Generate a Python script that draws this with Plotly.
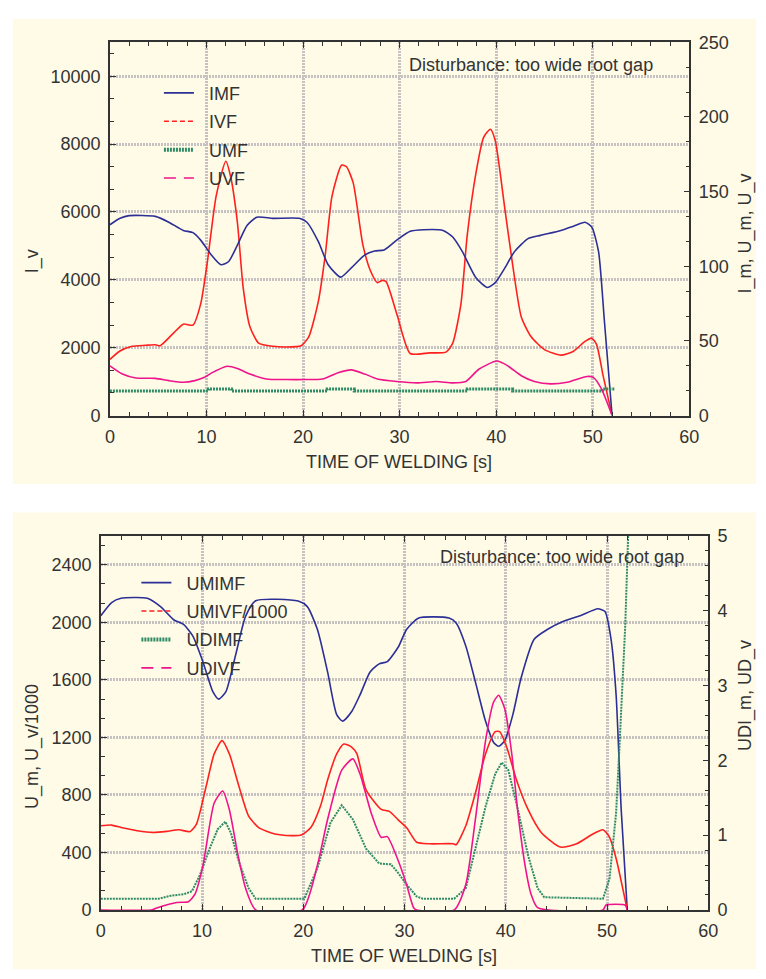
import plotly.graph_objects as go

# ---------------- Top panel data ----------------
T_IMF = [0, 1.05, 2.0, 4.7, 6.1, 7.6, 8.6, 9.4, 10.5, 11.5, 12.3, 13.2, 14.2, 15.2, 16.9, 19.6, 20.4, 21.6,
         22.6, 23.9, 25.0, 26.4, 27.4, 28.4, 29.7, 31.1, 32.5, 34.5, 35.5, 36.5, 37.9, 39.1, 39.9, 40.9,
         41.9, 43.3, 44.6, 46.7, 48.0, 49.2, 49.9, 50.6, 51.2, 52.0]
IMF = [127.8, 132.1, 133.9, 133.4, 129.5, 124.0, 122.5, 117.5, 107.6, 101.0, 103.2, 114.2, 127.3, 132.8, 132.1,
       132.1, 129.5, 116.3, 101.0, 92.7, 98.9, 107.6, 110.2, 110.9, 117.5, 123.4, 124.5, 124.0, 119.6, 109.8,
       92.3, 85.8, 89.0, 98.9, 109.8, 118.5, 120.7, 124.0, 126.8, 129.5, 126.2, 109.8, 63.8, 0]

T_IVF = [0, 1.0, 2.3, 3.7, 4.7, 5.2, 6.4, 7.6, 8.6, 9.4, 10.1, 11.0, 12.0, 12.5, 13.2, 13.8, 14.5, 15.4,
         16.9, 18.2, 19.8, 20.6, 21.6, 22.3, 23.0, 24.0, 24.5, 25.2, 26.2, 27.0, 27.7, 28.2, 28.6, 29.75,
         31.1, 33.1, 34.8, 35.5, 36.35, 37.0, 37.9, 38.7, 39.4, 39.9, 40.9, 41.75, 42.6, 43.6, 45.0, 46.7,
         48.0, 49.2, 49.9, 50.4, 51.07, 52.0]
IVF = [1654, 1896, 2041, 2070, 2088, 2059, 2376, 2694, 2665, 3291, 4542, 6467, 7497, 7044, 5697, 3773, 2618,
       2136, 2041, 2021, 2059, 2329, 3387, 4735, 6467, 7382, 7333, 6851, 5023, 4253, 3917, 3984, 3946, 2954,
       1828, 1848, 1868, 2136, 3291, 5312, 7140, 8199, 8439, 8104, 6083, 4350, 2907, 2329, 1943, 1780,
       1896, 2185, 2281, 2088, 1175, 0]

T_UMF = [0, 10.2, 12.6, 22.5, 25.3, 37.0, 41.7, 51.0, 52.3]
UMF = [16.4, 17.7, 16.4, 17.7, 16.4, 17.7, 16.4, 17.7, 17.7]

T_UVF = [0, 1.3, 2.7, 4.7, 6.1, 7.6, 8.8, 9.8, 10.5, 12.15, 13.2, 14.5, 16.2, 18.2, 20.3, 22.0, 23.7, 25.0,
         26.4, 27.7, 29.7, 31.8, 33.8, 35.5, 36.85, 38.2, 40.07, 41.2, 42.6, 43.96, 45.65, 47.35, 49.4,
         50.05, 50.9, 52.0]
UVF = [33.3, 27.8, 25.1, 24.9, 23.4, 22.3, 23.4, 25.6, 28.4, 33.0, 31.5, 27.8, 24.5, 24.1, 24.1, 24.5, 28.9,
       30.6, 27.8, 24.5, 22.8, 21.9, 22.8, 21.9, 22.8, 31.0, 36.5, 33.3, 26.7, 22.8, 21.2, 22.3, 26.2,
       25.6, 17.9, 0]

# ---------------- Bottom panel data ----------------
T_UMIMF = [0, 1.07, 2.0, 4.6, 5.9, 7.2, 8.2, 9.1, 10.1, 11.07, 11.65, 12.36, 13.3, 14.3, 15.3, 19.5, 20.4,
           21.4, 22.4, 23.3, 23.9, 24.8, 25.6, 26.6, 27.5, 28.3, 29.4, 30.2, 31.4, 34.4, 35.1, 36.05, 37.0,
           38.0, 38.8, 39.3, 39.9, 40.7, 41.5, 42.8, 44.1, 45.7, 47.35, 49.1, 49.8, 50.4, 50.9, 51.4, 52.0]
UMIMF = [2045, 2137, 2167, 2167, 2109, 2018, 1984, 1904, 1723, 1518, 1466, 1518, 1768, 2041, 2150, 2148,
         2109, 1950, 1655, 1358, 1313, 1382, 1495, 1655, 1711, 1727, 1830, 1950, 2030, 2030, 1996, 1836,
         1586, 1313, 1165, 1138, 1177, 1358, 1609, 1882, 1950, 2007, 2046, 2094, 2075, 1882, 1495, 699, 0]

T_UMIVF = [0, 1.07, 2.0, 3.6, 5.1, 6.5, 7.7, 8.8, 9.45, 10.4, 11.2, 11.97, 12.7, 13.65, 14.6, 15.6, 17.2,
           18.8, 19.8, 20.75, 21.7, 22.4, 23.3, 24.0, 24.8, 25.3, 26.2, 27.7, 28.5, 29.4, 30.2, 31.2, 32.5,
           34.8, 35.1, 36.05, 37.0, 38.0, 38.96, 39.4, 40.1, 41.06, 42.2, 43.5, 45.4, 47.0, 48.6, 49.6,
           50.25, 50.9, 52.0]
UMIVF = [585, 590, 573, 551, 539, 546, 558, 544, 597, 858, 1085, 1177, 1085, 858, 653, 573, 528, 517, 521,
         573, 722, 904, 1085, 1154, 1131, 1085, 835, 699, 685, 625, 573, 471, 460, 460, 453, 585, 812,
         1085, 1240, 1240, 1131, 904, 699, 539, 437, 460, 528, 558, 505, 358, 0]

T_UDIMF = [0, 5.7, 6.9, 8.2, 9.0, 9.8, 10.75, 11.55, 12.3, 12.85, 13.65, 14.6, 15.3, 20.1, 21.4, 22.7,
           23.8, 24.9, 26.2, 27.5, 28.65, 29.4, 30.2, 31.2, 31.8, 34.9, 36.05, 37.0, 38.0, 38.96, 39.6,
           40.25, 41.2, 42.2, 43.15, 43.8, 49.6, 50.25, 50.9, 51.2, 51.5, 51.8, 52.1, 52.2]
UDIMF = [0.15, 0.15, 0.19, 0.21, 0.25, 0.47, 0.82, 1.08, 1.18, 1.03, 0.64, 0.29, 0.15, 0.15, 0.56, 1.17,
         1.40, 1.21, 0.82, 0.62, 0.61, 0.49, 0.34, 0.18, 0.15, 0.15, 0.29, 0.82, 1.38, 1.82, 1.97, 1.87,
         1.34, 0.73, 0.29, 0.17, 0.15, 0.42, 1.30, 2.1, 2.9, 3.8, 5.05, 5.3]

T_UDIVF = [0, 5.0, 5.6, 7.5, 8.65, 9.3, 10.1, 11.2, 12.04, 12.7, 13.5, 14.3, 15.3, 19.9, 21.4, 22.4, 23.8,
           24.9, 25.6, 26.7, 27.7, 28.3, 29.4, 30.2, 30.9, 31.2, 34.9, 36.05, 37.0, 38.0, 38.8, 39.3, 39.9,
           40.6, 41.2, 41.9, 42.5, 43.15, 49.6, 49.9, 51.8, 52.0]
UDIVF = [0, 0, 0.03, 0.10, 0.11, 0.21, 0.60, 1.43, 1.59, 1.34, 0.77, 0.29, 0, 0, 0.60, 1.21, 1.87, 2.02,
         1.82, 1.30, 0.97, 0.98, 0.65, 0.34, 0.03, 0, 0, 0.34, 1.21, 2.26, 2.78, 2.87, 2.69, 2.08, 1.30,
         0.60, 0.21, 0.03, 0, 0.065, 0.065, 0]

X_TICKS = [0, 10, 20, 30, 40, 50, 60]
TITLE_X = "TIME OF WELDING [s]"
NOTE = "Disturbance: too wide root gap"

# ---------------- Styling ----------------
W, H = 766, 979
FONT = "Liberation Sans, Arial, sans-serif"
TXT = "#333333"
BEIGE = "#FFFBE6"
C_BLUE = "#2B2F96"
C_RED = "#FF2020"
C_GREEN = "#2E8B66"
C_MAG = "#F0148C"
GRID = "#C6C2C2"
PAD = "\u00a0\u00a0"  # small gap between legend sample and label


def px_x(p):
    return p / W


def px_y(p):
    return 1 - p / H


fig = go.Figure()


def data_line(x, y, xa, ya, color, width=1.6, dash=None, shape="spline"):
    line = dict(color=color, width=width, dash=dash, shape=shape)
    if shape == "spline":
        line["smoothing"] = 0.6
    fig.add_trace(go.Scatter(x=x, y=y, xaxis=xa, yaxis=ya, mode="lines", showlegend=False,
                             line=line, hoverinfo="skip"))


def legend_line(name, xa, ya, color, width, dash, legend):
    fig.add_trace(go.Scatter(x=[None], y=[None], xaxis=xa, yaxis=ya, mode="lines", name=PAD + name,
                             legendgroup=legend + name,
                             line=dict(color=color, width=width, dash=dash), legend=legend))


# top panel
data_line(T_IMF, IMF, "x", "y2", C_BLUE)
data_line(T_IVF, IVF, "x", "y", C_RED)
data_line(T_UMF, UMF, "x", "y2", C_GREEN, width=3, dash="2px,1px", shape="hv")
data_line(T_UVF, UVF, "x", "y2", C_MAG)
legend_line("IMF", "x", "y", C_BLUE, 1.6, None, "legend")
legend_line("IVF", "x", "y", C_RED, 1.6, "5px,3px", "legend")
legend_line("UMF", "x", "y", C_GREEN, 4, "2px,1px", "legend")
legend_line("UVF", "x", "y", C_MAG, 1.6, "12px,8px", "legend")

# bottom panel
data_line(T_UMIMF, UMIMF, "x2", "y3", C_BLUE)
data_line(T_UMIVF, UMIVF, "x2", "y3", C_RED)
data_line(T_UDIMF, UDIMF, "x2", "y4", C_GREEN, width=2, dash="2px,1px", shape="linear")
data_line(T_UDIVF, UDIVF, "x2", "y4", C_MAG)
legend_line("UMIMF", "x2", "y3", C_BLUE, 1.6, None, "legend2")
legend_line("UMIVF/1000", "x2", "y3", C_RED, 1.6, "5px,3px", "legend2")
legend_line("UDIMF", "x2", "y3", C_GREEN, 4, "2px,1px", "legend2")
legend_line("UDIVF", "x2", "y3", C_MAG, 1.6, "12px,8px", "legend2")

axis_common = dict(showline=True, linecolor=TXT, linewidth=1.5, ticks="inside", ticklen=6,
                   tickcolor=TXT, tickwidth=1, tickfont=dict(family=FONT, size=18, color=TXT),
                   zeroline=False, tickformat="d")
grid_on = dict(showgrid=True, gridcolor=GRID, gridwidth=2.5, griddash="2px,1px")

TOP = (33, 414, 107, 698)
BOT = (537, 918.7, 97.7, 717.3)

legend_common = dict(xanchor="left", yanchor="top", bgcolor="rgba(0,0,0,0)", borderwidth=0,
                     font=dict(size=18, color=TXT), tracegroupgap=2, itemwidth=30,
                     traceorder="grouped")

fig.update_layout(
    width=W, height=H, margin=dict(l=0, r=0, t=0, b=0),
    paper_bgcolor="white", plot_bgcolor="white",
    font=dict(family=FONT, size=18, color=TXT),
    xaxis=dict(domain=[px_x(TOP[2]), px_x(TOP[3])], anchor="y", range=[0, 60], tickvals=X_TICKS,
               mirror="ticks", minor=dict(dtick=2, ticks="inside", ticklen=4, tickcolor=TXT),
               ticklabelstandoff=4, **grid_on, **axis_common),
    yaxis=dict(domain=[px_y(TOP[1]), px_y(TOP[0])], anchor="x", range=[0, 11000], dtick=2000,
               minor=dict(dtick=2000 / 3, ticks="inside", ticklen=4, tickcolor=TXT),
               ticklabelstandoff=4, **grid_on, **axis_common),
    yaxis2=dict(overlaying="y", side="right", anchor="x", range=[0, 250], dtick=50, showgrid=False,
                minor=dict(dtick=50 / 3, ticks="inside", ticklen=4, tickcolor=TXT),
                ticklabelstandoff=4, **axis_common),
    xaxis2=dict(domain=[px_x(BOT[2]), px_x(BOT[3])], anchor="y3", range=[0, 60], tickvals=X_TICKS,
                mirror="ticks", minor=dict(dtick=2, ticks="inside", ticklen=4, tickcolor=TXT),
                ticklabelstandoff=4, **grid_on, **axis_common),
    yaxis3=dict(domain=[px_y(BOT[1]), px_y(BOT[0])], anchor="x2", range=[0, 2600], dtick=400,
                minor=dict(dtick=400 / 3, ticks="inside", ticklen=4, tickcolor=TXT),
                ticklabelstandoff=4, **grid_on, **axis_common),
    yaxis4=dict(overlaying="y3", side="right", anchor="x2", range=[0, 5], dtick=1, showgrid=False,
                minor=dict(dtick=0.2, ticks="inside", ticklen=4, tickcolor=TXT),
                ticklabelstandoff=4, **axis_common),
    legend=dict(x=px_x(157), y=px_y(66), **legend_common),
    legend2=dict(x=px_x(134), y=px_y(566), **legend_common),
    shapes=[
        dict(type="rect", xref="paper", yref="paper", x0=px_x(8), x1=1, y0=px_y(484), y1=px_y(9),
             fillcolor=BEIGE, line=dict(width=0), layer="below"),
        dict(type="rect", xref="paper", yref="paper", x0=px_x(8), x1=1, y0=0, y1=px_y(513),
             fillcolor=BEIGE, line=dict(width=0), layer="below"),
    ],
)

ann = []
ann.append(dict(text=TITLE_X, x=px_x(402), y=px_y(461), xref="paper", yref="paper", showarrow=False,
                xanchor="center", yanchor="middle", font=dict(size=18, color=TXT)))
ann.append(dict(text=TITLE_X, x=px_x(407), y=px_y(966), xref="paper", yref="paper", showarrow=False,
                xanchor="center", yanchor="middle", font=dict(size=18, color=TXT)))
ann.append(dict(text="I_v", x=px_x(28), y=px_y(256), xref="paper", yref="paper", showarrow=False,
                textangle=-90, xanchor="center", yanchor="middle", font=dict(size=18, color=TXT)))
ann.append(dict(text="I_m, U_m, U_v", x=px_x(755), y=px_y(228), xref="paper", yref="paper",
                showarrow=False, textangle=-90, xanchor="center", yanchor="middle",
                font=dict(size=18, color=TXT)))
ann.append(dict(text="U_m, U_v/1000", x=px_x(28), y=px_y(752), xref="paper", yref="paper",
                showarrow=False, textangle=-90, xanchor="center", yanchor="middle",
                font=dict(size=18, color=TXT)))
ann.append(dict(text="UDI_m, UD_v", x=px_x(755), y=px_y(700), xref="paper", yref="paper",
                showarrow=False, textangle=-90, xanchor="center", yanchor="middle",
                font=dict(size=18, color=TXT)))
ann.append(dict(text=NOTE, x=px_x(410), y=px_y(56), xref="paper", yref="paper", showarrow=False,
                xanchor="left", yanchor="middle", font=dict(size=18, color=TXT)))
ann.append(dict(text=NOTE, x=px_x(442), y=px_y(558), xref="paper", yref="paper", showarrow=False,
                xanchor="left", yanchor="middle", font=dict(size=18, color=TXT)))
fig.update_layout(annotations=ann)

fig.write_html("out.html", config={"displayModeBar": False},
               post_script="document.body.style.margin='0px';"
                           "document.documentElement.style.overflow='hidden';")
